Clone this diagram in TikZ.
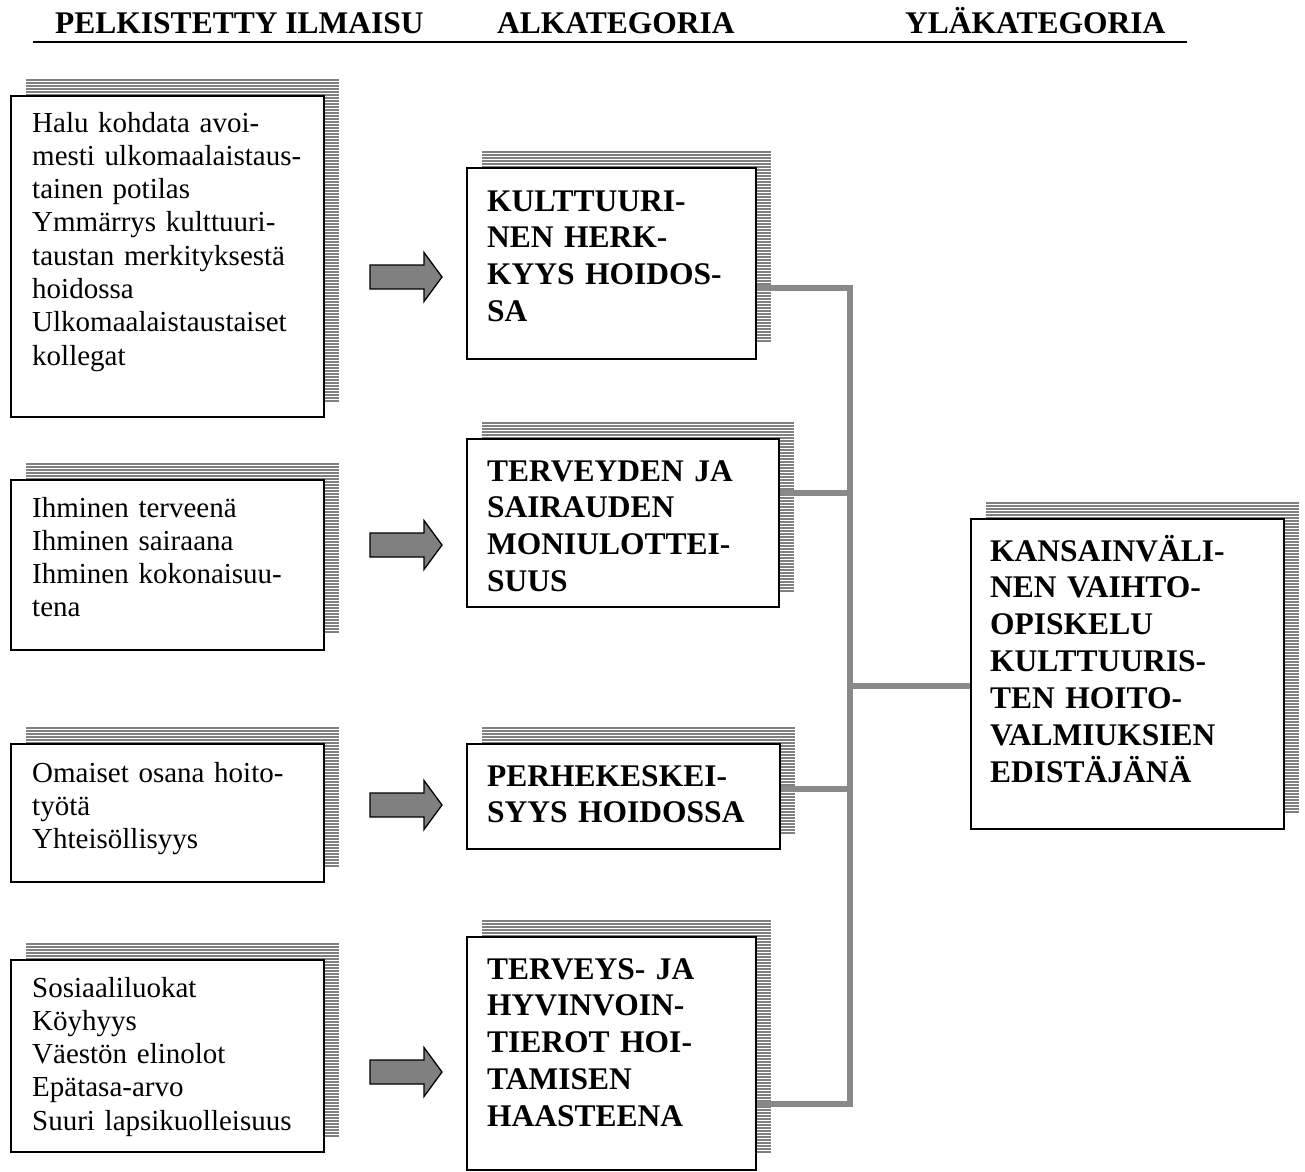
\documentclass[tikz,border=0pt]{standalone}
\usepackage{fontspec}
\setmainfont{Liberation Serif}
\usetikzlibrary{calc}
\definecolor{shadowgray}{HTML}{808080}
\definecolor{linkgray}{HTML}{898989}
\tikzset{
  stripe/.style={draw=shadowgray, line width=2},
  boxst/.style={draw=black, fill=white, line width=1.8, inner sep=0},
  bodytext/.style={anchor=base west, inner sep=0, text width=290, align=left,
    font=\fontsize{29}{33.3}\selectfont},
  boldtext/.style={anchor=base west, inner sep=0, text width=300, align=left,
    font=\fontsize{31.5}{36.9}\selectfont\bfseries},
  headtext/.style={anchor=base west, inner sep=0, font=\fontsize{31.5}{36.9}\selectfont\bfseries},
  link/.style={draw=linkgray, line width=5.5},
  blockarrow/.style={draw=black, fill=shadowgray, line width=1.3, line join=miter},
}
% shadowed box: name, x1, y1, x2, y2 (pixel coordinates, y downwards)
\newcommand\shbox[5]{%
  \pgfmathtruncatemacro\nst{(#5-#3)/3}%
  \foreach \k in {0,...,\nst}{\draw[stripe] (#2+16,#3-15+3*\k) -- (#4+16,#3-15+3*\k);}%
  \node[boxst, minimum width=#4-#2, minimum height=#5-#3, anchor=north west] (#1) at (#2,#3) {};%
}
\newcommand\blockarr[1]{%
  \draw[blockarrow] (370,#1-12) -- (424,#1-12) -- (424,#1-24.5) -- (442,#1) --
    (424,#1+24.5) -- (424,#1+12) -- (370,#1+12) -- cycle;%
}
\begin{document}
\begin{tikzpicture}[x=1pt,y=-1pt]
\useasboundingbox (0,0) rectangle (1305,1171);

% headers
\node[headtext] (h1) at (55,33) {PELKISTETTY ILMAISU};
\node[headtext] (h2) at (497,33) {ALKATEGORIA};
\node[headtext] (h3) at (905,33) {YLÄKATEGORIA};
\coordinate (ul1) at (33,42);
\coordinate (ul2) at (1187,42);
\draw[line width=1.6] (ul1) -- (ul2);

% left boxes
\shbox{L1}{10}{95}{323}{416}
\node[bodytext] (tL1) at (32,132) {Halu kohdata avoi-\\mesti ulkomaalaistaus-\\tainen potilas\\Ymmärrys kulttuuri-\\taustan merkityksestä\\hoidossa\\Ulkomaalaistaustaiset\\kollegat};
\shbox{L2}{10}{479}{323}{649}
\node[bodytext] (tL2) at (32,517) {Ihminen terveenä\\Ihminen sairaana\\Ihminen kokonaisuu-\\tena};
\shbox{L3}{10}{743}{323}{881}
\node[bodytext] (tL3) at (32,782) {Omaiset osana hoito-\\työtä\\Yhteisöllisyys};
\shbox{L4}{10}{959}{323}{1151}
\node[bodytext] (tL4) at (32,997) {Sosiaaliluokat\\Köyhyys\\Väestön elinolot\\Epätasa-arvo\\Suuri lapsikuolleisuus};

% middle boxes
\shbox{M1}{466}{167}{755}{358}
\node[boldtext] (tM1) at (487,211) {KULTTUURI-\\NEN HERK-\\KYYS HOIDOS-\\SA};
\shbox{M2}{466}{438}{778}{606}
\node[boldtext] (tM2) at (487,481) {TERVEYDEN JA\\SAIRAUDEN\\MONIULOTTEI-\\SUUS};
\shbox{M3}{466}{743}{779}{848}
\node[boldtext] (tM3) at (487,786) {PERHEKESKEI-\\SYYS HOIDOSSA};
\shbox{M4}{466}{936}{755}{1169}
\node[boldtext] (tM4) at (487,979) {TERVEYS- JA\\HYVINVOIN-\\TIEROT HOI-\\TAMISEN\\HAASTEENA};

% right box
\shbox{R}{970}{518}{1283}{828}
\node[boldtext] (tR) at (990,561) {KANSAINVÄLI-\\NEN VAIHTO-\\OPISKELU\\KULTTUURIS-\\TEN HOITO-\\VALMIUKSIEN\\EDISTÄJÄNÄ};

% block arrows
\blockarr{277}
\blockarr{545}
\blockarr{805}
\blockarr{1072}

% connectors
\coordinate (j1) at (850,288);
\coordinate (j2) at (850,493);
\coordinate (jr) at (850,686);
\coordinate (j3) at (850,789);
\coordinate (j4) at (850,1104);
\draw[link, line cap=rect] (j1) -- (j4);
\draw[link] (M1.east |- j1) -- (j1);
\draw[link] (M2.east |- j2) -- (j2);
\draw[link] (jr) -- (R.west |- jr);
\draw[link] (M3.east |- j3) -- (j3);
\draw[link] (M4.east |- j4) -- (j4);
\end{tikzpicture}
\end{document}
